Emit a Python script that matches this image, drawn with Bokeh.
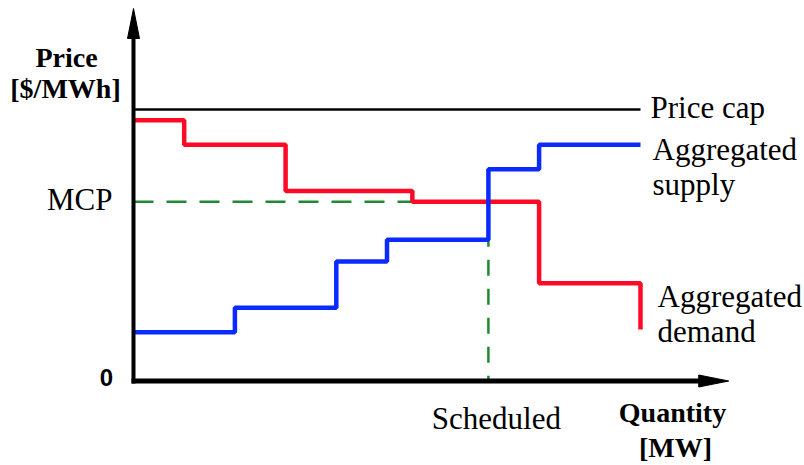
from bokeh.plotting import figure
from bokeh.models import Range1d
from bokeh.core.properties import value
from bokeh.embed import file_html
from bokeh.resources import INLINE

# ---- data (quantity in MW units, price in $/MWh units) ----
demand_q = [0, 10, 30, 55, 80, 100]
demand_p = [96, 87, 70, 66, 36, 19]
supply_q = [0, 20, 40, 50, 70, 80, 100]
supply_p = [18, 27, 44, 52, 78, 87, 87]
price_cap = 100
mcp = 66
q_sched = 70
q_max = 100
y_axis_top = 137.2
x_axis_end = 117.4

# ---- layout constants ----
W, H = 804, 465
X0, Y0 = 133, 380.5
KX = 5.07    # px per quantity unit
KY = 2.715   # px per price unit


def dx(px):
    return px / KX


def dy(px):
    return px / KY


def qx(px):
    return (px - X0) / KX


def py(px, size=30):
    # baseline correction for rendered text
    return (Y0 - (px - 0.37 * size)) / KY


p = figure(width=W, height=H,
           x_range=Range1d(-X0 / KX, (W - X0) / KX),
           y_range=Range1d(-(H - Y0) / KY, Y0 / KY),
           output_backend="svg", toolbar_location=None, min_border=0,
           x_axis_location=None, y_axis_location=None)
p.grid.visible = False
p.outline_line_color = None
p.background_fill_color = "white"
p.border_fill_color = "white"

RED = "#ff0a26"
BLUE = "#0a2aff"
GREEN = "#1f8a32"

# price cap
p.line([0, q_max], [price_cap, price_cap], line_color="black", line_width=2.6)

# MCP / scheduled dashed guides
p.line([0, q_sched], [mcp, mcp], line_color=GREEN, line_width=2.5, line_dash="20 13")
p.line([q_sched, q_sched], [mcp, 0], line_color=GREEN, line_width=2.5, line_dash="16 13")

# curves
p.step(demand_q, demand_p, mode="after", line_color=RED, line_width=4.5)
p.step(supply_q, supply_p, mode="after", line_color=BLUE, line_width=4.5)

# axes with arrow heads
HEAD_L, HEAD_W = 30, 12
p.line([0, 0], [-dy(2.5), y_axis_top - dy(HEAD_L) + dy(1)], line_color="black", line_width=4)
p.patch([-dx(HEAD_W / 2), dx(HEAD_W / 2), 0],
        [y_axis_top - dy(HEAD_L), y_axis_top - dy(HEAD_L), y_axis_top],
        color="black")
p.line([-dx(2), x_axis_end - dx(HEAD_L) + dx(1)], [0, 0], line_color="black", line_width=5)
p.patch([x_axis_end - dx(HEAD_L), x_axis_end - dx(HEAD_L), x_axis_end],
        [dy(HEAD_W / 2), -dy(HEAD_W / 2), 0],
        color="black")

SERIF = value("Liberation Serif")

# regular serif labels (left aligned)
p.text(x=[q_max + dx(10), q_max + dx(12), q_max + dx(12), q_max + dx(17), q_max + dx(17)],
       y=[py(118, 31), py(160, 31), py(195, 31), py(307, 31), py(342, 31)],
       text=["Price cap", "Aggregated", "supply", "Aggregated", "demand"],
       text_font=SERIF, text_font_size="31px", text_color="black",
       text_align="left", text_baseline="alphabetic")

# MCP label
p.text(x=[-dx(21)], y=[py(210, 31)], text=["MCP"],
       text_font=SERIF, text_font_size="31px", text_color="black",
       text_align="right", text_baseline="alphabetic")

# Scheduled
p.text(x=[q_sched + dx(8)], y=[py(429, 31)], text=["Scheduled"],
       text_font=SERIF, text_font_size="31px", text_color="black",
       text_align="center", text_baseline="alphabetic")

# axis titles (bold)
p.text(x=[qx(672), qx(675), qx(66), qx(65)],
       y=[py(422, 28), py(457, 28), py(67, 28), py(98, 28)],
       text=["Quantity", "[MW]", "Price", "[$/MWh]"],
       text_font=SERIF, text_font_size="28px", text_font_style="bold",
       text_color="black", text_align="center", text_baseline="alphabetic")

# origin
p.text(x=[qx(106)], y=[py(386, 24)], text=["0"],
       text_font=value("Liberation Sans"), text_font_size="24px", text_font_style="bold",
       text_color="black", text_align="center", text_baseline="alphabetic")

open("out.html", "w").write(file_html(p, INLINE))
